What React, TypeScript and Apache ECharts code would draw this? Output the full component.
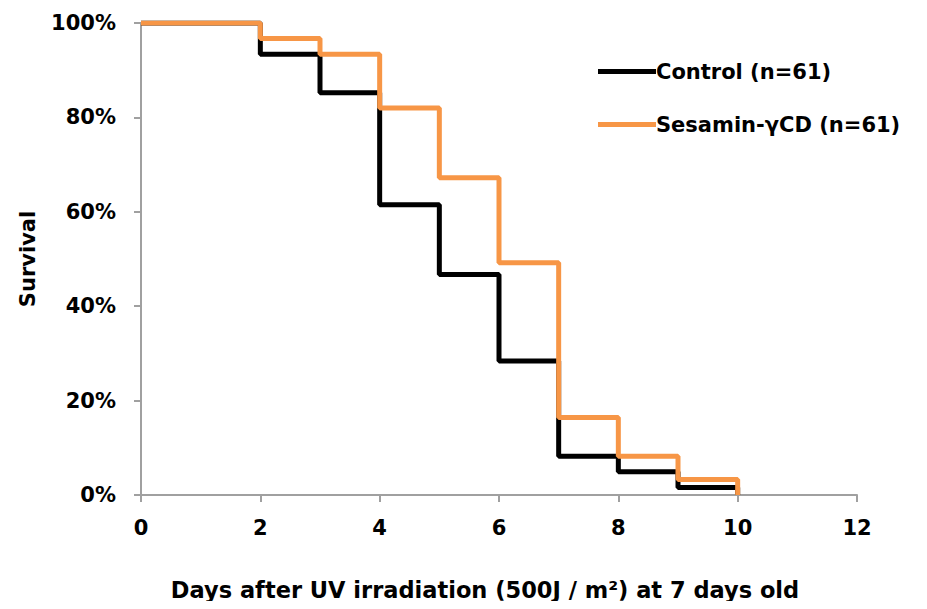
import React, { useEffect, useRef } from "react";
import * as echarts from "echarts";

const days = [0, 2, 3, 4, 5, 6, 7, 8, 9, 10];
const controlSurvival = [100, 93.4, 85.2, 61.5, 46.7, 28.4, 8.2, 4.9, 1.6, 0];
const sesaminSurvival = [100, 96.7, 93.4, 82.0, 67.2, 49.2, 16.4, 8.2, 3.3, 0];
const seriesNames = ["Control (n=61)", "Sesamin-γCD (n=61)"];
const xTitle = "Days after UV irradiation (500J / m²) at 7 days old";
const yTitle = "Survival";

const FONT = "DejaVu Sans";

export default function App() {
  const ref = useRef<HTMLDivElement>(null);
  useEffect(() => {
    const chart = echarts.init(ref.current!, null, { renderer: "svg" });
    const mk = (vals: number[]) => days.map((d, i) => [d, vals[i]]);
    const txt = { fontFamily: FONT, fontWeight: "bold", fontSize: 21, color: "#000" };
    chart.setOption({
      animation: false,
      backgroundColor: "#ffffff",
      grid: { left: 133, right: 62, top: 15, bottom: 106, outerBoundsMode: "none", containLabel: false },
      legend: {
        orient: "vertical",
        left: 585,
        top: 48,
        itemGap: 32,
        itemWidth: 58,
        itemHeight: 5,
        icon: "rect",
        textStyle: { ...txt, padding: [0, 0, 0, -5] },
        data: seriesNames,
      },
      xAxis: {
        type: "value",
        min: 0,
        max: 12,
        interval: 2,
        name: xTitle,
        nameLocation: "middle",
        nameGap: 83,
        nameTextStyle: { ...txt, fontSize: 22.5, padding: [0, 28, 0, 0] },
        axisLine: { lineStyle: { color: "#a0a0a0", width: 2 } },
        axisTick: { show: true, length: 7, lineStyle: { color: "#a0a0a0", width: 2 } },
        axisLabel: { ...txt, margin: 22 },
        splitLine: { show: false },
      },
      yAxis: {
        type: "value",
        min: 0,
        max: 100,
        interval: 20,
        name: yTitle,
        nameLocation: "middle",
        nameGap: 103,
        nameRotate: 90,
        nameTextStyle: txt,
        axisLine: { show: true, lineStyle: { color: "#a0a0a0", width: 2 } },
        axisTick: { show: true, length: 7, lineStyle: { color: "#a0a0a0", width: 2 } },
        axisLabel: {
          ...txt,
          margin: 25,
          formatter: (v: number) => v + "%",
        },
        splitLine: { show: false },
      },
      series: [
        {
          name: seriesNames[0],
          type: "line",
          step: "end",
          data: mk(controlSurvival),
          symbol: "none",
          lineStyle: { color: "#000000", width: 5 },
          itemStyle: { color: "#000000" },
          z: 2,
        },
        {
          name: seriesNames[1],
          type: "line",
          step: "end",
          data: mk(sesaminSurvival),
          symbol: "none",
          lineStyle: { color: "#F79646", width: 5 },
          itemStyle: { color: "#F79646" },
          z: 3,
        },
      ],
    });
    return () => chart.dispose();
  }, []);
  return <div ref={ref} style={{ width: 911, height: 593 }} />;
}
